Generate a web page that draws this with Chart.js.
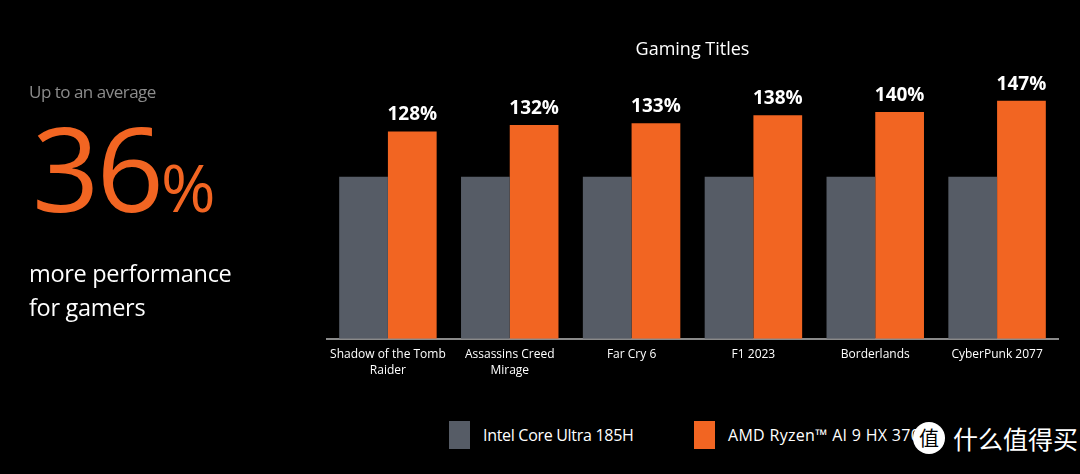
<!DOCTYPE html>
<html>
<head>
<meta charset="utf-8">
<script src="https://cdn.jsdelivr.net/npm/chart.js@4/dist/chart.umd.min.js"></script>
<style>
    html, body { margin: 0; padding: 0; background: #000; }
    body { width: 1080px; height: 474px; position: relative; overflow: hidden; font-family: 'Open Sans', sans-serif; }
    #wrap { position: absolute; left: 0; top: 0; width: 1080px; height: 378px; }
    .side { position: absolute; left: 29px; color: #fff; white-space: nowrap; }
    .avg { top: 80px; font-size: 17px; color: #8c8c8c; letter-spacing: -0.5px; }
    .big { top: 108px; left: 32px; font-size: 118px; color: #f26522; line-height: 1; letter-spacing: -3px; }
    .big span { font-size: 66px; letter-spacing: 0; }
    .more { top: 256px; font-size: 23.5px; line-height: 34px; letter-spacing: -0.3px; }
    .legend { position: absolute; top: 421px; height: 28px; display: flex; align-items: center; color: #fff; font-size: 16px; letter-spacing: -0.3px; }
    .legend i { display: inline-block; width: 21px; height: 28px; margin-right: 13px; }
    .wm { position: absolute; left: 913px; top: 420px; color: #fff; font-family: 'Noto Sans CJK SC', sans-serif; font-size: 25px; display: flex; align-items: center; }
    .wm b { display: inline-block; width: 32px; height: 32px; border-radius: 50%; background: #fff; color: #000; font-size: 20px; text-align: center; line-height: 32px; margin-right: 8px; font-weight: normal; }
</style>
</head>
<body>
<div id="wrap"><canvas id="chart" width="1080" height="378"></canvas></div>

<div class="side avg">Up to an average</div>
<div class="side big">36<span>%</span></div>
<div class="side more">more performance<br>for gamers</div>

<div class="legend" style="left:449px"><i style="background:#565c66"></i>Intel Core Ultra 185H</div>
<div class="legend" style="left:694px; letter-spacing:0.3px"><i style="background:#f26522"></i>AMD Ryzen™ AI 9 HX 370</div>
<div class="wm"><b>值</b>什么值得买</div>

<script>
// Gaming titles, performance relative to Intel (= 100%)
const games = [
    ['Shadow of the Tomb', 'Raider'],
    ['Assassins Creed', 'Mirage'],
    'Far Cry 6',
    'F1 2023',
    'Borderlands',
    'CyberPunk 2077'
];
const intelScores = [100, 100, 100, 100, 100, 100];
const amdScores = [128, 132, 133, 138, 140, 147];

const GRAY = '#565c66';
const ORANGE = '#f26522';

// value labels above the orange bars
const valueLabels = {
    id: 'valueLabels',
    afterDatasetsDraw(chart) {
        const ctx = chart.ctx;
        const meta = chart.getDatasetMeta(1);
        ctx.save();
        ctx.fillStyle = '#fff';
        ctx.font = 'bold 19px "Open Sans", sans-serif';
        ctx.textAlign = 'center';
        ctx.textBaseline = 'bottom';
        meta.data.forEach((bar, i) => {
            ctx.fillText(amdScores[i] + '%', bar.x, bar.y - 7);
        });
        ctx.restore();
    }
};

new Chart(document.getElementById('chart'), {
    type: 'bar',
    data: {
        labels: games,
        datasets: [
            { label: 'Intel Core Ultra 185H', data: intelScores, backgroundColor: GRAY, categoryPercentage: 0.8, barPercentage: 1.0 },
            { label: 'AMD Ryzen™ AI 9 HX 370', data: amdScores, backgroundColor: ORANGE, categoryPercentage: 0.8, barPercentage: 1.0 }
        ]
    },
    options: {
        responsive: false,
        animation: false,
        layout: { padding: { left: 327, right: 22, top: 21, bottom: 0 } },
        plugins: {
            legend: { display: false },
            tooltip: { enabled: false },
            title: {
                display: true,
                text: 'Gaming Titles',
                color: '#fff',
                font: { family: 'Open Sans', size: 18, weight: 'normal' },
                padding: { top: 18, bottom: 19 }
            }
        },
        scales: {
            x: {
                grid: { display: false },
                border: { display: true, color: '#8a8a8a', width: 2 },
                ticks: { color: '#fff', font: { family: 'Open Sans', size: 12, lineHeight: 1.3 }, padding: 0, maxRotation: 0, autoSkip: false }
            },
            y: {
                display: false,
                min: 0,
                max: 160
            }
        }
    },
    plugins: [valueLabels]
});
</script>
</body>
</html>
